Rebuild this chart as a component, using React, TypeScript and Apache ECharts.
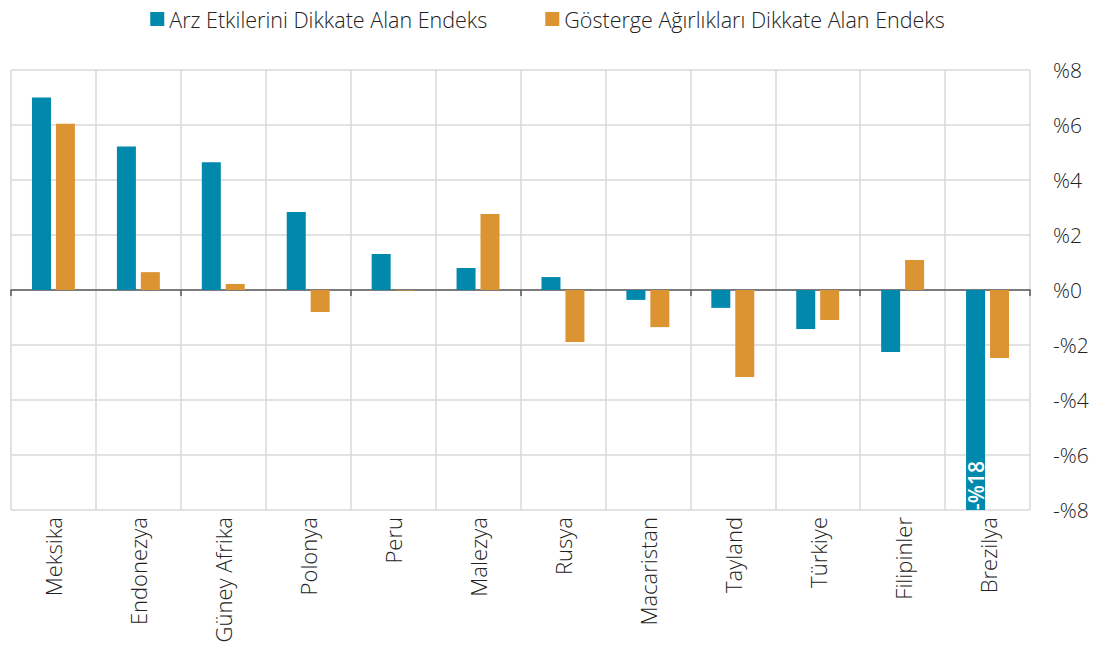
import React, { useEffect, useRef } from "react";
import * as echarts from "echarts";

const categories = ["Meksika", "Endonezya", "Güney Afrika", "Polonya", "Peru", "Malezya", "Rusya", "Macaristan", "Tayland", "Türkiye", "Filipinler", "Brezilya"];
const supplyIndex = [7.0, 5.22, 4.65, 2.84, 1.31, 0.8, 0.47, -0.36, -0.65, -1.42, -2.25, -18];
const weightIndex = [6.05, 0.65, 0.22, -0.8, -0.02, 2.76, -1.89, -1.35, -3.16, -1.09, 1.09, -2.47];
const yTicks = { min: -8, max: 8, interval: 2 };
const seriesNames = ["Arz Etkilerini Dikkate Alan Endeks", "Gösterge Ağırlıkları Dikkate Alan Endeks"];

const FONT = "'Open Sans', 'DejaVu Sans', sans-serif";
const BLUE = "#0089ad";
const ORANGE = "#dc9432";

export default function App() {
  const ref = useRef<HTMLDivElement>(null);
  useEffect(() => {
    if (!ref.current) return;
    const chart = echarts.init(ref.current, null, { renderer: "svg" });
    const fmt = (v: number) => (v < 0 ? "-%" + Math.abs(v) : "%" + v);
    chart.setOption({
      animation: false,
      textStyle: { fontFamily: FONT },
      legend: {
        top: 3,
        left: "center",
        itemWidth: 14,
        itemHeight: 14,
        itemGap: 58,
        icon: "rect",
        textStyle: { fontSize: 21.5, color: "#222", fontFamily: FONT, fontWeight: 300 },
        data: seriesNames,
      },
      grid: { left: 11, right: 65, top: 70, bottom: 138, containLabel: false },
      xAxis: [
        {
          type: "category",
          data: categories,
          position: "bottom",
          axisLine: { show: false, onZero: false },
          axisTick: { show: false },
          axisLabel: { rotate: 90, margin: 7, fontSize: 22, color: "#222", fontFamily: FONT, fontWeight: 300 },
          splitLine: { show: true, lineStyle: { color: "#d9d9d9", width: 1.5 } },
        },
        {
          type: "category",
          data: categories,
          position: "top",
          axisLine: { show: true, onZero: true, lineStyle: { color: "#595959", width: 1.5 } },
          axisTick: { show: true, inside: true, length: 6, lineStyle: { color: "#595959", width: 1.5 } },
          axisLabel: { show: false },
          splitLine: { show: false },
        },
      ],
      yAxis: {
        type: "value",
        position: "right",
        min: yTicks.min,
        max: yTicks.max,
        interval: yTicks.interval,
        axisLine: { show: false },
        axisTick: { show: false },
        axisLabel: { formatter: fmt, margin: 23, fontSize: 21, color: "#222", fontFamily: FONT, fontWeight: 300, align: "left" },
        splitLine: { show: true, lineStyle: { color: "#d9d9d9", width: 1.5 } },
      },
      series: [
        {
          name: seriesNames[0],
          type: "bar",
          xAxisIndex: 0,
          data: supplyIndex.map((v) =>
            v < yTicks.min
              ? {
                  value: v,
                  label: {
                    show: true,
                    position: "insideBottom",
                    distance: 0,
                    rotate: 90,
                    align: "left",
                    verticalAlign: "middle",
                    formatter: () => fmt(v),
                    color: "#fff",
                    fontSize: 21,
                    fontWeight: 600,
                    fontFamily: FONT,
                  },
                }
              : v
          ),
          barWidth: 19,
          barGap: "26%",
          clip: true,
          itemStyle: { color: BLUE },
        },
        {
          name: seriesNames[1],
          type: "bar",
          xAxisIndex: 0,
          data: weightIndex,
          barWidth: 19,
          barGap: "26%",
          clip: true,
          itemStyle: { color: ORANGE },
        },
      ],
    });
    return () => chart.dispose();
  }, []);
  return <div ref={ref} style={{ position: "absolute", left: 0, top: 0, width: 1095, height: 648 }} />;
}
